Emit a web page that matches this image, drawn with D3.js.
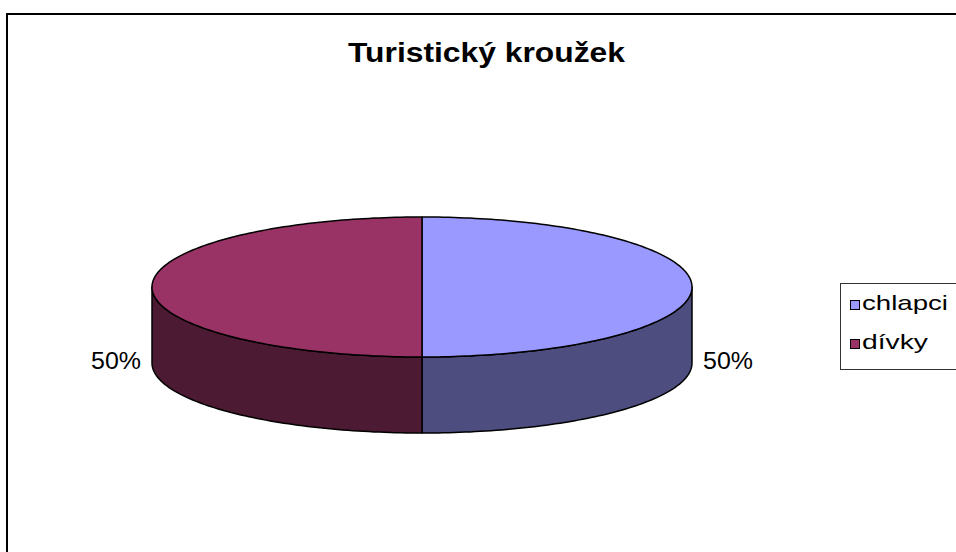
<!DOCTYPE html>
<html>
<head>
<meta charset="utf-8">
<script src="https://cdn.jsdelivr.net/npm/d3@7"></script>
<style>
  html, body { margin: 0; padding: 0; background: #fff; }
  svg { display: block; font-family: 'Liberation Sans', Arial, sans-serif; }
</style>
</head>
<body>
<svg id="chart" width="956" height="552"></svg>
<script>
'use strict';
const TITLE = 'Turistický kroužek';
const CATEGORIES = ['chlapci', 'dívky'];
const VALUES = [1, 1];
const TOP_COLORS = ['#9999ff', '#993366'];
const SIDE_COLORS = ['#4d4d80', '#4d1a33'];

const cx = 422, cy = 287, rx = 270, ry = 70, depth = 76;

const svg = d3.select('#chart');

// the original chart's text is stretched sideways: scale glyphs to a width
function wideText(parent, x, y, str, size, width, bold) {
  const t = parent.append('text')
    .attr('font-size', size)
    .attr('font-weight', bold ? 'bold' : 'normal')
    .text(str);
  const w = t.node().getComputedTextLength();
  t.attr('transform', `translate(${x},${y}) scale(${width / w},1)`);
  return t;
}

// chart frame (runs off the right and bottom edges)
svg.append('rect')
  .attr('x', 7).attr('y', 14)
  .attr('width', 970).attr('height', 560)
  .attr('fill', '#fff')
  .attr('stroke', '#000')
  .attr('stroke-width', 2);

wideText(svg, 348, 62, TITLE, 27, 277, true);

const total = d3.sum(VALUES);
const pie = d3.pie().sort(null).value((d) => d)(VALUES);

// angle measured clockwise from 12 o'clock
const px = (a) => cx + rx * Math.sin(a);
const py = (a, dz = 0) => cy - ry * Math.cos(a) + dz;

function arcPoints(a0, a1, dz) {
  const n = Math.max(2, Math.ceil(Math.abs(a1 - a0) / 0.02));
  return d3.range(n + 1).map((i) => {
    const a = a0 + ((a1 - a0) * i) / n;
    return [px(a), py(a, dz)];
  });
}

const line = d3.line();

// side walls (only the front half, pi/2 .. 3pi/2, is visible)
const g = svg.append('g');
pie.forEach((s, i) => {
  const a0 = Math.max(s.startAngle, Math.PI / 2);
  const a1 = Math.min(s.endAngle, (3 * Math.PI) / 2);
  if (a1 <= a0) return;
  const pts = arcPoints(a0, a1, 0).concat(arcPoints(a1, a0, depth));
  g.append('path')
    .attr('d', line(pts) + 'Z')
    .attr('fill', SIDE_COLORS[i])
    .attr('stroke', '#000')
    .attr('stroke-width', 1.5)
    .attr('stroke-linejoin', 'round');
});

// top faces
pie.forEach((s, i) => {
  const pts = [[cx, cy]].concat(arcPoints(s.startAngle, s.endAngle, 0));
  g.append('path')
    .attr('d', line(pts) + 'Z')
    .attr('fill', TOP_COLORS[i])
    .attr('stroke', '#000')
    .attr('stroke-width', 1.5)
    .attr('stroke-linejoin', 'round');
});

// percentage labels
const fmt = d3.format('.0%');
pie.forEach((s) => {
  const mid = (s.startAngle + s.endAngle) / 2;
  const right = Math.sin(mid) > 0;
  wideText(svg, right ? px(mid) + 11 : px(mid) - 61, 369,
    fmt(s.value / total), 23, 50, false);
});

// legend
const lg = svg.append('g');
lg.append('rect')
  .attr('x', 840.5).attr('y', 283.5)
  .attr('width', 130).attr('height', 86)
  .attr('fill', '#fff')
  .attr('stroke', '#333')
  .attr('stroke-width', 1);

const ly = d3.scalePoint().domain(CATEGORIES).range([305, 344]);
const legendWidths = [86, 66];
CATEGORIES.forEach((c, i) => {
  lg.append('rect')
    .attr('x', 850.5).attr('y', ly(c) - 4.5)
    .attr('width', 9).attr('height', 9)
    .attr('fill', TOP_COLORS[i])
    .attr('stroke', '#000')
    .attr('stroke-width', 1);
  wideText(lg, 862, ly(c) + 5, c, 20.5, legendWidths[i], false);
});
</script>
</body>
</html>
